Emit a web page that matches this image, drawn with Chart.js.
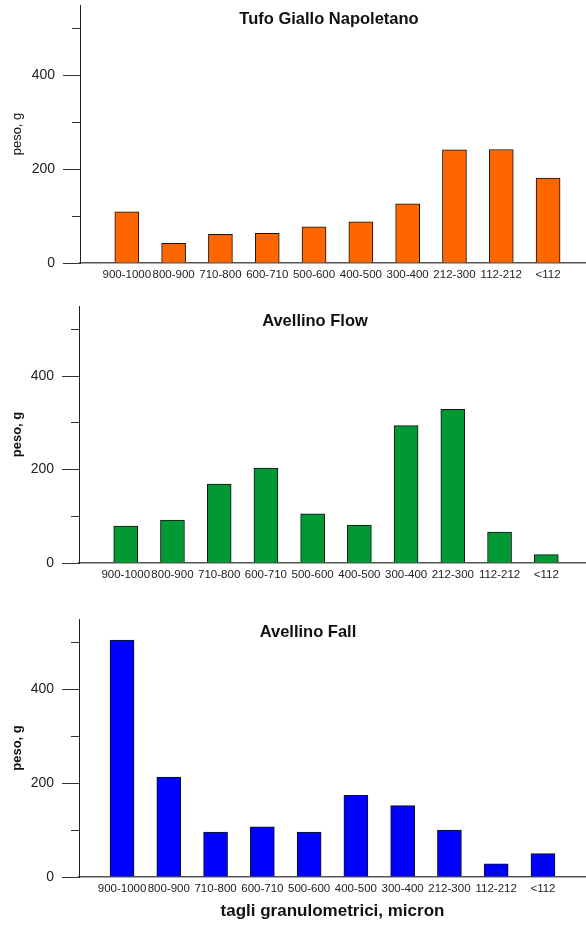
<!DOCTYPE html>
<html lang="it">
<head>
<meta charset="UTF-8">
<title>Granulometria</title>
<script src="https://cdn.jsdelivr.net/npm/chart.js"></script>
<style>
  html, body { margin: 0; padding: 0; background: #fff; }
  body { width: 586px; height: 926px; position: relative; overflow: hidden; }
  .box { position: absolute; left: 0; width: 586px; }
</style>
</head>
<body>
<div class="box" style="top:0;height:292px"><canvas id="c1"></canvas></div>
<div class="box" style="top:292px;height:300px"><canvas id="c2"></canvas></div>
<div class="box" style="top:592px;height:334px"><canvas id="c3"></canvas></div>

<script>
// size classes (micron) and weights (g)
const sizeClasses = ['900-1000', '800-900', '710-800', '600-710', '500-600',
                     '400-500', '300-400', '212-300', '112-212', '<112'];
const tufoValues = [109, 42, 61, 63, 77, 88, 126, 241, 242, 181];
const flowValues = [79, 92, 169, 203, 105, 81, 294, 329, 66, 18];
const fallValues = [505, 213, 96, 107, 96, 174, 152, 100, 28, 50];

const yMajorTicks = [0, 200, 400];
const yMinorTicks = [100, 300, 500];
const yMax = 550;

const FONT = '"Liberation Sans", Arial, sans-serif';
Chart.defaults.font.family = FONT;
Chart.defaults.color = '#222';

// title drawn inside the plot area
const panelTitle = {
  id: 'panelTitle',
  afterDraw(chart, args, opts) {
    const ctx = chart.ctx;
    ctx.save();
    ctx.font = 'bold 16.5px ' + FONT;
    ctx.fillStyle = '#111';
    ctx.textAlign = 'center';
    ctx.textBaseline = 'middle';
    ctx.fillText(opts.text, opts.x, chart.chartArea.top + opts.dy);
    ctx.restore();
  }
};

function makePanel(id, p) {
  const allY = yMajorTicks.concat(yMinorTicks).sort((a, b) => a - b);
  new Chart(document.getElementById(id), {
    type: 'bar',
    data: {
      datasets: [{
        data: p.values.map((v, i) => ({ x: i, y: v })),
        backgroundColor: p.color,
        borderColor: '#111',
        borderWidth: 1,
        barThickness: 24
      }]
    },
    plugins: [panelTitle],
    options: {
      responsive: true,
      maintainAspectRatio: false,
      animation: false,
      layout: { padding: { top: p.padTop, left: 0, right: 0, bottom: 0 } },
      plugins: {
        legend: { display: false },
        tooltip: { enabled: false },
        panelTitle: { text: p.title, x: p.titleX, dy: p.titleDy }
      },
      scales: {
        x: {
          type: 'linear',
          offset: false,
          min: p.xMin,
          max: p.xMax,
          afterBuildTicks: s => { s.ticks = sizeClasses.map((_, i) => ({ value: i })); },
          afterFit: s => { s.height = p.xHeight; },
          grid: { display: false, drawTicks: false },
          border: { display: true, color: '#555', width: 1.5 },
          ticks: {
            autoSkip: false,
            maxRotation: 0,
            padding: 5,
            font: { size: 11.5 },
            callback: v => sizeClasses[v]
          },
          title: p.xTitle ? {
            display: true,
            text: p.xTitle,
            font: { size: 17, weight: 'bold' },
            color: '#111',
            padding: { top: 0, bottom: 4 }
          } : { display: false }
        },
        y: {
          min: 0,
          max: yMax,
          afterBuildTicks: s => { s.ticks = allY.map(v => ({ value: v })); },
          afterFit: s => { s.width = p.axisX; s.paddingTop = 0; s.paddingBottom = 0; },
          grid: {
            drawOnChartArea: false,
            tickLength: 17,
            tickColor: '#333',
            tickWidth: 1,
            tickBorderDash: c => (c.tick && yMajorTicks.includes(c.tick.value)) ? [] : [0, 9, 8, 0]
          },
          border: { display: true, color: '#222', width: 1 },
          ticks: {
            padding: 8,
            font: { size: 14 },
            callback: v => yMajorTicks.includes(v) ? v : ''
          },
          title: {
            display: true,
            text: 'peso, g',
            font: { size: 13, weight: p.yBold ? 'bold' : 'normal' },
            color: '#111',
            padding: { top: 10, bottom: 0 }
          }
        }
      }
    }
  });
}

makePanel('c1', {
  values: tufoValues, color: '#FF6600', title: 'Tufo Giallo Napoletano',
  titleX: 329, titleDy: 14, padTop: 5, axisX: 80, xMin: -1.0, xMax: 9.81,
  xHeight: 29, yBold: false
});
makePanel('c2', {
  values: flowValues, color: '#009933', title: 'Avellino Flow',
  titleX: 315, titleDy: 15, padTop: 14, axisX: 79, xMin: -1.0, xMax: 9.85,
  xHeight: 29, yBold: true
});
makePanel('c3', {
  values: fallValues, color: '#0000FF', title: 'Avellino Fall',
  titleX: 308, titleDy: 13, padTop: 27, axisX: 79, xMin: -0.92, xMax: 9.92,
  xHeight: 49, yBold: true, xTitle: 'tagli granulometrici, micron'
});
</script>
</body>
</html>
